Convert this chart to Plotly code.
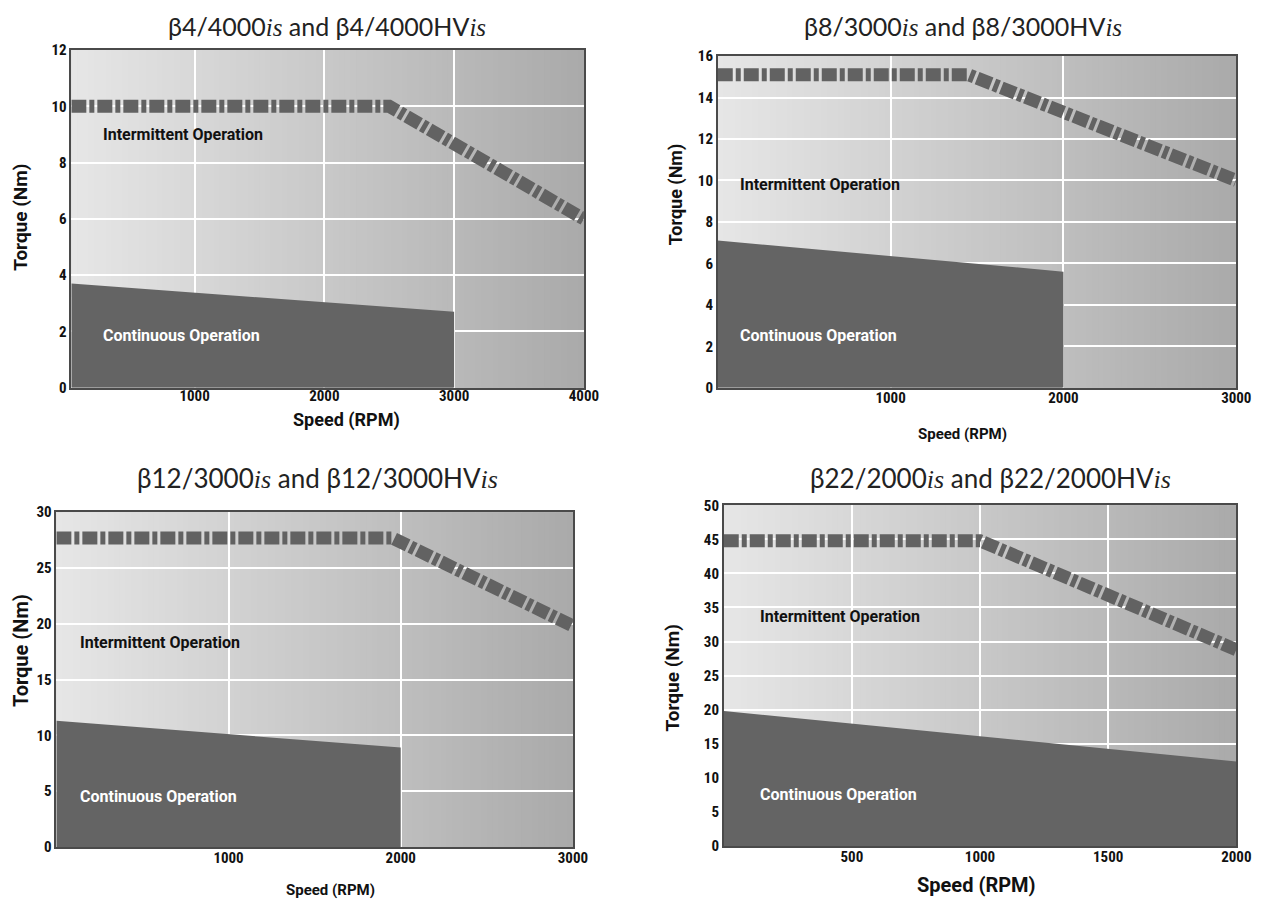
import plotly.graph_objects as go

W, H = 1261, 905

# ---------------- data ----------------
SERIF_IS = "<span style=\"font-family:'Liberation Serif', 'DejaVu Serif', serif\"><i>is</i></span>"
titles = [
    "β4/4000" + SERIF_IS + " and β4/4000HV" + SERIF_IS,
    "β8/3000" + SERIF_IS + " and β8/3000HV" + SERIF_IS,
    "β12/3000" + SERIF_IS + " and β12/3000HV" + SERIF_IS,
    "β22/2000" + SERIF_IS + " and β22/2000HV" + SERIF_IS,
]

# intermittent operation (dashed) curves
p1_int_speed = [50, 2500, 4000]
p1_int_torque = [10.0, 10.0, 6.0]
p2_int_speed = [0, 1450, 3000]
p2_int_torque = [15.1, 15.1, 10.0]
p3_int_speed = [0, 1950, 3000]
p3_int_torque = [27.7, 27.7, 19.8]
p4_int_speed = [0, 1000, 2000]
p4_int_torque = [44.8, 44.8, 28.8]

# continuous operation (filled) regions
p1_cont_speed = [50, 3000]
p1_cont_torque = [3.7, 2.7]
p2_cont_speed = [0, 2000]
p2_cont_torque = [7.1, 5.6]
p3_cont_speed = [0, 2000]
p3_cont_torque = [11.3, 8.9]
p4_cont_speed = [0, 2000]
p4_cont_torque = [19.8, 12.4]

# axis ranges and ticks
x_ranges = [[50, 4000], [0, 3000], [0, 3000], [0, 2000]]
y_ranges = [[0, 12], [0, 16], [0, 30], [0, 50]]
x_ticks = [[1000, 2000, 3000, 4000], [1000, 2000, 3000], [1000, 2000, 3000], [500, 1000, 1500, 2000]]
y_ticks = [list(range(0, 13, 2)), list(range(0, 17, 2)), list(range(0, 31, 5)), list(range(0, 51, 5))]

x_label = "Speed (RPM)"
y_label = "Torque (Nm)"
int_label = "Intermittent Operation"
cont_label = "Continuous Operation"

# label anchor positions (data coordinates)
int_label_pos = [(280, 9.0), (120, 9.8), (128, 18.3), (135, 33.6)]
cont_label_pos = [(280, 1.85), (120, 2.5), (128, 4.5), (135, 7.6)]

# ---------------- layout (target pixels) ----------------
boxes = [  # left, right, top, bottom
    (70, 583, 48, 387),
    (717, 1236, 54, 387),
    (55, 572, 512, 848),
    (723, 1236, 505, 847),
]
title_x = [326, 962, 316, 990]
title_y = [None, None, 478, 478]   # top-row titles pinned to the top edge
title_size = [25, 25, 26, 26]
ytitle_pos = [(19, 216), (676, 193), (19, 651), (672, 678)]
xtitle_pos = [(345, 419), (962, 433), (329, 891), (976, 886)]
ytitle_size = [19, 18, 20, 19]
xtitle_size = [18, 15, 15, 20]
xtick_standoff = [-6, -4, -4, -4]

COND = "Roboto Condensed, Roboto, DejaVu Sans Condensed, sans-serif"
WIDE = "Roboto, DejaVu Sans, sans-serif"
TITLE_FONT = "Lato, Noto Sans, Open Sans, sans-serif"
DARK = "#646464"
DASH_COL = "#626262"

# calibration of target pixel -> layout pixel
AX, BX = 0.989, 6.6
AY, BY = 0.984, 14.8


def px(x):
    return ((x - BX) / AX) / W


def py(y):
    return 1 - ((y - BY) / AY) / H


fig = go.Figure()

ints = [(p1_int_speed, p1_int_torque), (p2_int_speed, p2_int_torque),
        (p3_int_speed, p3_int_torque), (p4_int_speed, p4_int_torque)]
conts = [(p1_cont_speed, p1_cont_torque), (p2_cont_speed, p2_cont_torque),
         (p3_cont_speed, p3_cont_torque), (p4_cont_speed, p4_cont_torque)]

shapes = []
annotations = []

for i in range(4):
    n = "" if i == 0 else str(i + 1)
    xa, ya = "x" + n, "y" + n
    cs, ct = conts[i]
    fig.add_trace(go.Scatter(x=cs, y=ct, mode="lines", fill="tozeroy",
                             fillcolor=DARK, line=dict(width=0, color=DARK),
                             xaxis=xa, yaxis=ya, showlegend=False, hoverinfo="skip"))
    isp, itq = ints[i]
    fig.add_trace(go.Scatter(x=isp, y=itq, mode="lines",
                             line=dict(width=13, color=DASH_COL, dash="15px,3px,5px,3px"),
                             xaxis=xa, yaxis=ya, showlegend=False, hoverinfo="skip"))

    l, r, t, b = boxes[i]
    axis_common = dict(showgrid=True, gridcolor="white", gridwidth=2,
                       zeroline=False, showline=True, mirror=True, linecolor="#4a4a4a",
                       linewidth=1.5, ticks="",
                       tickfont=dict(family=COND, size=15, color="#111", weight="bold"))
    fig.update_layout(**{
        "xaxis" + n: dict(domain=[px(l), px(r)], range=x_ranges[i], anchor=ya,
                          tickvals=x_ticks[i], ticklabelstandoff=xtick_standoff[i], **axis_common),
        "yaxis" + n: dict(domain=[py(b), py(t)], range=y_ranges[i], anchor=xa,
                          tickvals=y_ticks[i], **axis_common),
    })

    # background horizontal gradient
    N = 90
    c0, c1 = 0xE6, 0xAA
    for k in range(N):
        f = k / (N - 1)
        c = round(c0 + (c1 - c0) * f)
        col = "#%02x%02x%02x" % (c, c, c)
        shapes.append(dict(type="rect", xref=xa + " domain", yref=ya + " domain",
                           x0=k / N, x1=min(1, (k + 2) / N), y0=0, y1=1,
                           fillcolor=col, line=dict(width=0), layer="below"))

    # titles
    if title_y[i] is None:
        annotations.append(dict(text=titles[i], x=px(title_x[i]), y=1.0 + 7 / H, xref="paper",
                                yref="paper", showarrow=False, xanchor="center", yanchor="top",
                                borderpad=0,
                                font=dict(family=TITLE_FONT, size=title_size[i], color="#222")))
    else:
        annotations.append(dict(text=titles[i], x=px(title_x[i]), y=py(title_y[i]), xref="paper",
                                yref="paper", showarrow=False, xanchor="center", yanchor="middle",
                                font=dict(family=TITLE_FONT, size=title_size[i], color="#222")))
    # axis titles
    yx, yy = ytitle_pos[i]
    annotations.append(dict(text=y_label, x=px(yx), y=py(yy), xref="paper", yref="paper",
                            showarrow=False, textangle=-90, xanchor="center", yanchor="middle",
                            font=dict(family=WIDE, size=ytitle_size[i], color="#111", weight="bold")))
    xx, xy = xtitle_pos[i]
    annotations.append(dict(text=x_label, x=px(xx), y=py(xy), xref="paper", yref="paper",
                            showarrow=False, xanchor="center", yanchor="middle",
                            font=dict(family=WIDE, size=xtitle_size[i], color="#111", weight="bold")))
    # region labels
    ix, iy = int_label_pos[i]
    annotations.append(dict(text=int_label, x=ix, y=iy, xref=xa, yref=ya, showarrow=False,
                            xanchor="left", yanchor="middle",
                            font=dict(family=WIDE, size=16, color="#111", weight="bold")))
    cx, cy = cont_label_pos[i]
    annotations.append(dict(text=cont_label, x=cx, y=cy, xref=xa, yref=ya, showarrow=False,
                            xanchor="left", yanchor="middle",
                            font=dict(family=WIDE, size=16, color="white", weight="bold")))

fig.update_layout(
    width=W, height=H,
    margin=dict(l=0, r=0, t=0, b=0),
    paper_bgcolor="white",
    plot_bgcolor="#c8c8c8",
    shapes=shapes,
    annotations=annotations,
    showlegend=False,
)

fig.write_html("out.html")
